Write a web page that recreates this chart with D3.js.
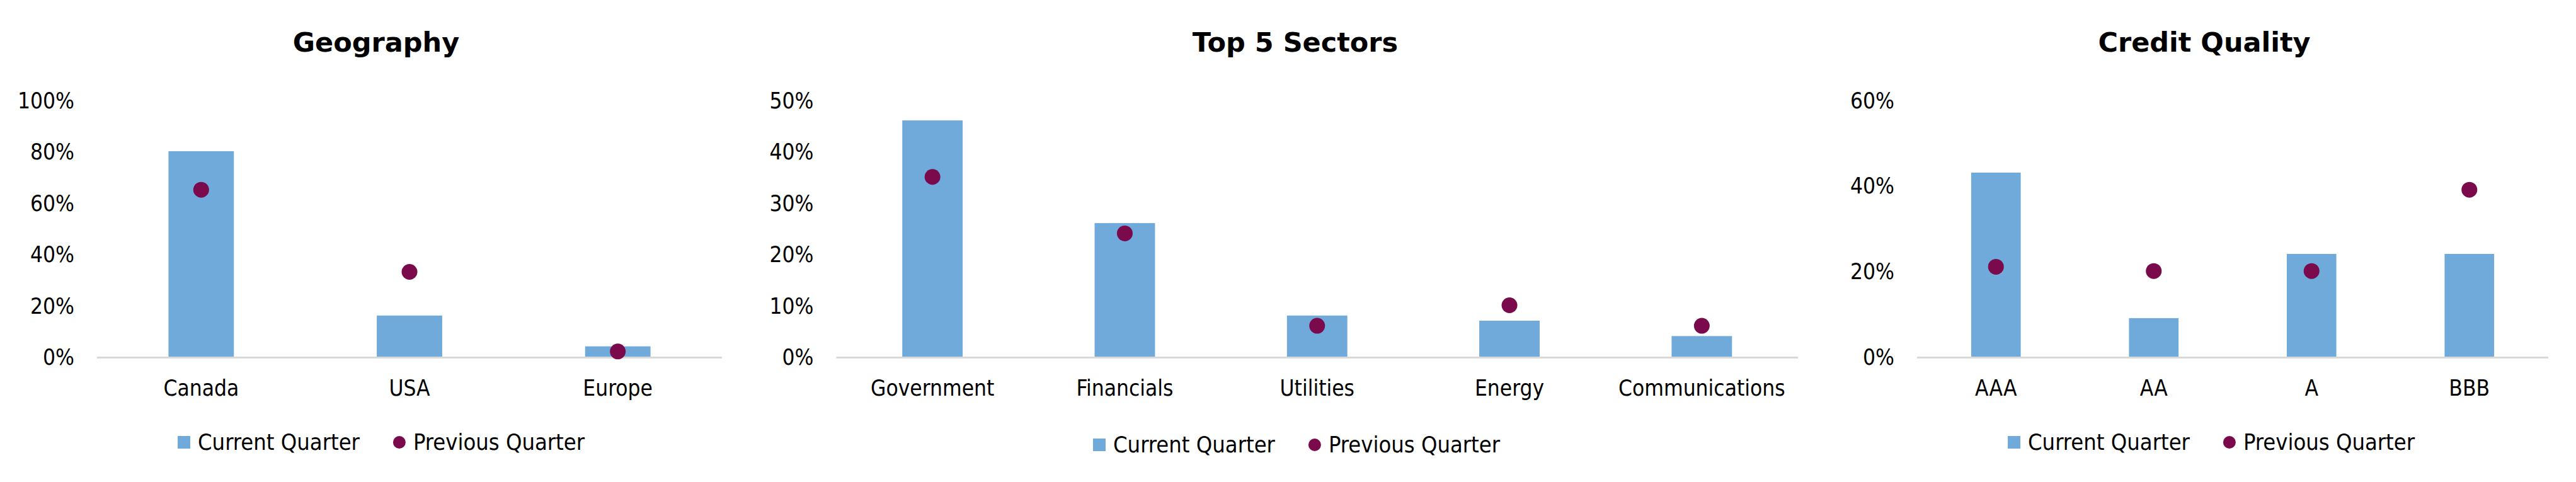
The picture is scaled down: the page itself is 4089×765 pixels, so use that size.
<!DOCTYPE html>
<html>
<head>
<meta charset="utf-8">
<script src="https://cdn.jsdelivr.net/npm/d3@7"></script>
<style>
  body { margin: 0; background: #fff; }
  svg { display: block; }
  text { font-family: "DejaVu Sans Condensed", "Liberation Sans Narrow", "DejaVu Sans", sans-serif; fill: #000; }
  .title { font-family: "DejaVu Sans", sans-serif; font-weight: bold; font-size: 43px; }
</style>
</head>
<body>
<div id="chart"></div>
<script>
// Define SVG area dimensions
var svgWidth = 4089;
var svgHeight = 765;

// Chart data
var geoCategories = ["Canada", "USA", "Europe"];
var geoCurrent = [80, 16, 4];
var geoPrevious = [65, 33, 2];
var geoTicks = [0, 20, 40, 60, 80, 100];

var sectorCategories = ["Government", "Financials", "Utilities", "Energy", "Communications"];
var sectorCurrent = [46, 26, 8, 7, 4];
var sectorPrevious = [35, 24, 6, 10, 6];
var sectorTicks = [0, 10, 20, 30, 40, 50];

var creditCategories = ["AAA", "AA", "A", "BBB"];
var creditCurrent = [43, 9, 24, 24];
var creditPrevious = [21, 20, 20, 39];
var creditTicks = [0, 20, 40, 60];

var legendLabels = ["Current Quarter", "Previous Quarter"];

var barColor = "#6FAADB";
var dotColor = "#7A0A4C";
var axisColor = "#D9D9D9";

// plot area shared by the three panels
var plotTop = 158.5;
var plotBottom = 566;

var svg = d3.select("#chart")
  .append("svg")
  .attr("width", svgWidth)
  .attr("height", svgHeight);

var panels = [
  { title: "Geography", cats: geoCategories, cur: geoCurrent, prev: geoPrevious, ticks: geoTicks,
    x0: 154, x1: 1146, titleX: 597, legendX: 605, legendY: 702 },
  { title: "Top 5 Sectors", cats: sectorCategories, cur: sectorCurrent, prev: sectorPrevious, ticks: sectorTicks,
    x0: 1327.5, x1: 2854, titleX: 2056, legendX: 2058, legendY: 706 },
  { title: "Credit Quality", cats: creditCategories, cur: creditCurrent, prev: creditPrevious, ticks: creditTicks,
    x0: 3043, x1: 4045, titleX: 3499, legendX: 3510, legendY: 702 }
];

panels.forEach(function(p) {
  var g = svg.append("g");

  var xScale = d3.scaleBand()
    .domain(p.cats)
    .range([p.x0, p.x1])
    .paddingInner(0.686)
    .paddingOuter(0.343);

  var yScale = d3.scaleLinear()
    .domain([0, d3.max(p.ticks)])
    .range([plotBottom, plotTop]);

  // title
  g.append("text")
    .attr("class", "title")
    .attr("x", p.titleX)
    .attr("y", 82)
    .attr("text-anchor", "middle")
    .text(p.title);

  // y axis labels, no line
  var yAxis = d3.axisLeft(yScale)
    .tickValues(p.ticks)
    .tickSize(0)
    .tickPadding(36)
    .tickFormat(function(d) { return d + "%"; });

  var yG = g.append("g")
    .attr("transform", "translate(" + p.x0 + ",0)")
    .call(yAxis);
  yG.select(".domain").remove();
  yG.selectAll("text")
    .attr("font-family", null)
    .attr("font-size", null)
    .style("font-size", "35px")
    .attr("dy", "0.36em");

  // bars
  var data = p.cats.map(function(c, i) { return { cat: c, cur: p.cur[i], prev: p.prev[i] }; });

  g.selectAll("rect.bar")
    .data(data)
    .enter()
    .append("rect")
    .attr("class", "bar")
    .attr("x", function(d) { return xScale(d.cat); })
    .attr("width", xScale.bandwidth())
    .attr("y", function(d) { return yScale(d.cur); })
    .attr("height", function(d) { return yScale(0) - yScale(d.cur); })
    .attr("fill", barColor);

  // baseline
  g.append("line")
    .attr("x1", p.x0)
    .attr("x2", p.x1)
    .attr("y1", yScale(0) + 1.5)
    .attr("y2", yScale(0) + 1.5)
    .attr("stroke", axisColor)
    .attr("stroke-width", 3);

  // previous quarter markers
  g.selectAll("circle.dot")
    .data(data)
    .enter()
    .append("circle")
    .attr("class", "dot")
    .attr("cx", function(d) { return xScale(d.cat) + xScale.bandwidth() / 2; })
    .attr("cy", function(d) { return yScale(d.prev); })
    .attr("r", 12.5)
    .attr("fill", dotColor);

  // category labels
  var xAxis = d3.axisBottom(xScale).tickSize(0);
  var xG = g.append("g")
    .attr("transform", "translate(0," + yScale(0) + ")")
    .call(xAxis);
  xG.select(".domain").remove();
  xG.selectAll("text")
    .attr("font-family", null)
    .attr("font-size", null)
    .style("font-size", "35px")
    .attr("dy", 0)
    .attr("y", 62);

  // legend
  var lg = g.append("g");
  lg.append("rect")
    .attr("x", 0)
    .attr("y", -10)
    .attr("width", 20)
    .attr("height", 20)
    .attr("fill", barColor);
  var t1 = lg.append("text")
    .attr("x", 32)
    .attr("y", 11.5)
    .style("font-size", "36px")
    .text(legendLabels[0]);
  var w1 = t1.node().getComputedTextLength();
  var dotX = 32 + w1 + 63;
  lg.append("circle")
    .attr("cx", dotX)
    .attr("cy", 0)
    .attr("r", 10)
    .attr("fill", dotColor);
  var t2 = lg.append("text")
    .attr("x", dotX + 22)
    .attr("y", 11.5)
    .style("font-size", "36px")
    .text(legendLabels[1]);
  var total = dotX + 22 + t2.node().getComputedTextLength();
  lg.attr("transform", "translate(" + (p.legendX - total / 2) + "," + p.legendY + ")");
});
</script>
</body>
</html>
